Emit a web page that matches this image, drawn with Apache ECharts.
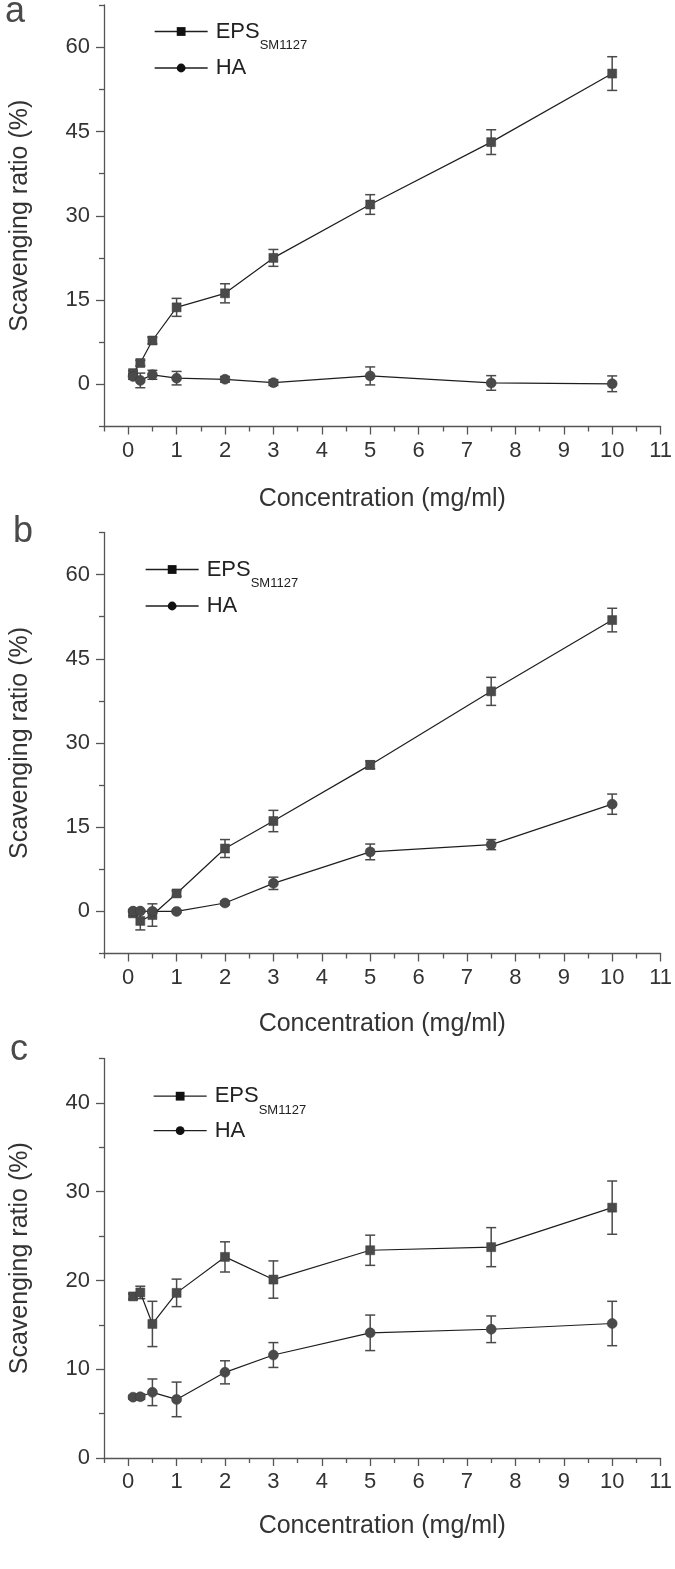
<!DOCTYPE html>
<html><head><meta charset="utf-8">
<script src="https://cdn.jsdelivr.net/npm/echarts@6/dist/echarts.min.js"></script>
<style>html,body{margin:0;padding:0;background:#fff}#c{width:675px;height:1569px}</style>
</head><body><div id="c"></div>
<script>
// ---------- data ----------
const conc = [0.1, 0.25, 0.5, 1, 2, 3, 5, 7.5, 10];

const epsA    = [2.0, 3.8, 7.8, 13.7, 16.2, 22.5, 32.0, 43.1, 55.3];
const epsAErr = [0.4, 0.5, 0.6, 1.6, 1.7, 1.5, 1.75, 2.2, 3.0];
const haA     = [1.4, 0.7, 1.7, 1.1, 0.9, 0.3, 1.5, 0.25, 0.1];
const haAErr  = [0.5, 1.3, 0.8, 1.2, 0.5, 0.5, 1.6, 1.3, 1.4];

const epsB    = [-0.35, -1.7, -0.65, 3.2, 11.2, 16.1, 26.1, 39.2, 51.9];
const epsBErr = [0.4, 1.6, 2.0, 0.5, 1.6, 1.9, 0.7, 2.5, 2.1];
const haB     = [0.05, 0.05, 0, 0, 1.5, 5.0, 10.6, 11.9, 19.1];
const haBErr  = [0.2, 0.2, 0.3, 0.2, 0.3, 1.1, 1.4, 0.9, 1.8];

const epsC    = [18.2, 18.65, 15.1, 18.6, 22.65, 20.1, 23.4, 23.75, 28.2];
const epsCErr = [0.3, 0.7, 2.55, 1.55, 1.7, 2.1, 1.7, 2.2, 3.0];
const haC     = [6.85, 6.9, 7.4, 6.6, 9.65, 11.6, 14.1, 14.5, 15.15];
const haCErr  = [0.2, 0.3, 1.5, 1.95, 1.3, 1.4, 2.0, 1.5, 2.5];

const xTicks      = [0,1,2,3,4,5,6,7,8,9,10,11];
const xMinorTicks = [-0.5,0.5,1.5,2.5,3.5,4.5,5.5,6.5,7.5,8.5,9.5,10.5];
const yTicksAB      = [0, 15, 30, 45, 60];
const yMinorTicksAB = [-7.5, 7.5, 22.5, 37.5, 52.5, 67.5];
const yTicksC       = [0, 10, 20, 30, 40];
const yMinorTicksC  = [5, 15, 25, 35, 45];

const seriesNames = ['EPS', 'HA'];
const panelLabels = ['a', 'b', 'c'];
const xTitle = 'Concentration (mg/ml)';
const yTitle = 'Scavenging ratio (%)';

// ---------- layout / style ----------
const FONT = "'Liberation Sans', Arial, Helvetica, sans-serif";
const AXIS = '#555';
const TEXT = '#333';
const panels = [
  { eps: epsA, epsErr: epsAErr, ha: haA, haErr: haAErr, yMin: -7.5, yMax: 67.5, yMajor: yTicksAB, yMinor: yMinorTicksAB,
    grid: { left: 96.5, top: 5, width: 565, height: 421.5 }, xNameGap: 60, legendLeft: 154, legendTops: [11, 57], labelXY: [5, -5.6] },
  { eps: epsB, epsErr: epsBErr, ha: haB, haErr: haBErr, yMin: -7.5, yMax: 67.5, yMajor: yTicksAB, yMinor: yMinorTicksAB,
    grid: { left: 96.5, top: 532.5, width: 565, height: 421 }, xNameGap: 58, legendLeft: 145, legendTops: [549, 595], labelXY: [13, 514.4] },
  { eps: epsC, epsErr: epsCErr, ha: haC, haErr: haCErr, yMin: 0, yMax: 45, yMajor: yTicksC, yMinor: yMinorTicksC,
    grid: { left: 97, top: 1058.5, width: 565, height: 399.5 }, xNameGap: 56, legendLeft: 153, legendTops: [1075.7, 1119.7], labelXY: [10, 1032.4] }
];

const grids = [], xAxes = [], yAxes = [], series = [], legends = [], graphics = [];
const n = panels.length;

function errBars(vals, errs, idx) {
  return {
    type: 'custom', xAxisIndex: idx, yAxisIndex: idx, z: 1, silent: true,
    data: conc.map((x, i) => [x, vals[i] - errs[i], vals[i] + errs[i]]),
    renderItem: function (params, api) {
      const lo = api.coord([api.value(0), api.value(1)]);
      const hi = api.coord([api.value(0), api.value(2)]);
      const hw = 5;
      const st = { stroke: '#4a4a4a', lineWidth: 1.5 };
      return { type: 'group', children: [
        { type: 'line', shape: { x1: lo[0], y1: lo[1], x2: hi[0], y2: hi[1] }, style: st },
        { type: 'line', shape: { x1: lo[0] - hw, y1: lo[1], x2: lo[0] + hw, y2: lo[1] }, style: st },
        { type: 'line', shape: { x1: hi[0] - hw, y1: hi[1], x2: hi[0] + hw, y2: hi[1] }, style: st }
      ]};
    }
  };
}

panels.forEach((p, i) => {
  grids.push(Object.assign({ containLabel: false }, p.grid));
  xAxes[i] = {
    type: 'value', gridIndex: i, position: 'bottom', min: -0.5, max: 11,
    name: xTitle, nameLocation: 'middle', nameGap: p.xNameGap,
    nameTextStyle: { fontSize: 25, color: TEXT, fontFamily: FONT },
    axisLine: { onZero: false, lineStyle: { color: AXIS, width: 1.3 } },
    axisTick: { customValues: xTicks, length: 8, lineStyle: { color: AXIS, width: 1.3 } },
    axisLabel: { customValues: xTicks, fontSize: 22, color: TEXT, fontFamily: FONT, margin: 13 },
    splitLine: { show: false }
  };
  xAxes[n + i] = {
    type: 'value', gridIndex: i, position: 'bottom', min: -0.5, max: 11,
    axisLine: { show: false, onZero: false },
    axisTick: { customValues: xMinorTicks, length: 5, lineStyle: { color: AXIS, width: 1.3 } },
    axisLabel: { show: false }, splitLine: { show: false }
  };
  yAxes[i] = {
    type: 'value', gridIndex: i, position: 'left', min: p.yMin, max: p.yMax,
    name: yTitle, nameLocation: 'middle', nameGap: 71,
    nameTextStyle: { fontSize: 25, color: TEXT, fontFamily: FONT },
    axisLine: { show: true, onZero: false, lineStyle: { color: AXIS, width: 1.3 } },
    axisTick: { show: true, customValues: p.yMajor, length: 8, lineStyle: { color: AXIS, width: 1.3 } },
    axisLabel: { customValues: p.yMajor, fontSize: 22, color: TEXT, fontFamily: FONT, margin: 14 },
    splitLine: { show: false }
  };
  yAxes[n + i] = {
    type: 'value', gridIndex: i, position: 'left', min: p.yMin, max: p.yMax,
    axisLine: { show: false, onZero: false },
    axisTick: { show: true, customValues: p.yMinor, length: 5, lineStyle: { color: AXIS, width: 1.3 } },
    axisLabel: { show: false }, splitLine: { show: false }
  };

  series.push(errBars(p.eps, p.epsErr, i));
  series.push(errBars(p.ha, p.haErr, i));
  series.push({
    type: 'line', name: seriesNames[0], xAxisIndex: i, yAxisIndex: i, z: 3,
    data: conc.map((x, k) => [x, p.eps[k]]),
    symbol: 'rect', symbolSize: 9, showAllSymbol: true,
    itemStyle: { color: '#4a4a4a', borderColor: '#3a3a3a', borderWidth: 0.5 },
    lineStyle: { color: '#1e1e1e', width: 1.2 }
  });
  series.push({
    type: 'line', name: seriesNames[1], xAxisIndex: i, yAxisIndex: i, z: 3,
    data: conc.map((x, k) => [x, p.ha[k]]),
    symbol: 'circle', symbolSize: 10, showAllSymbol: true,
    itemStyle: { color: '#4a4a4a', borderColor: '#3a3a3a', borderWidth: 0.5 },
    lineStyle: { color: '#1e1e1e', width: 1.2 }
  });

  seriesNames.forEach((nm, k) => {
    legends.push({
      data: [nm], left: p.legendLeft, top: p.legendTops[k], orient: 'vertical', padding: 0,
      itemWidth: 53, itemHeight: 11, selectedMode: false,
      itemStyle: { color: '#111', borderWidth: 0 }, lineStyle: { color: '#1e1e1e', width: 1.3 },
      formatter: function (name) { return name === 'EPS' ? '{a|EPS}{s|SM1127}' : '{a|' + name + '}'; },
      textStyle: { rich: {
        a: { fontSize: 22, lineHeight: 24, color: '#222', fontFamily: FONT, padding: [0, 0, 0, 3], verticalAlign: 'middle' },
        s: { fontSize: 13, lineHeight: 14, color: '#222', fontFamily: FONT, padding: [28, 0, 0, 0], verticalAlign: 'middle' }
      } }
    });
  });

  graphics.push({ type: 'text', left: p.labelXY[0], top: p.labelXY[1],
    style: { text: panelLabels[i], font: '36px ' + FONT, fill: '#4a4a4a' } });
});

const chart = echarts.init(document.getElementById('c'), null, { renderer: 'canvas' });
chart.setOption({
  animation: false,
  backgroundColor: '#fff',
  grid: grids, xAxis: xAxes, yAxis: yAxes, series: series, legend: legends, graphic: graphics
});
</script></body></html>
